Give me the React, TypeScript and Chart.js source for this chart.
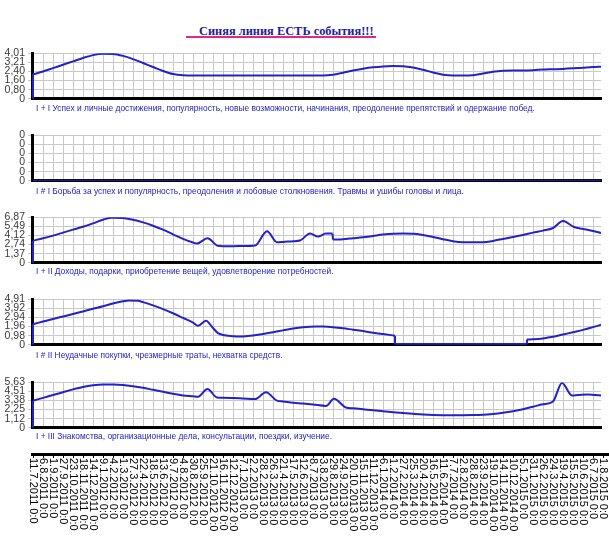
import React, { useEffect, useRef } from 'react';
import { Chart, registerables } from 'chart.js';
Chart.register(...registerables);

// ---------- data ----------
const dates = [
  '11.7.2011 0:0', '6.8.2011 0:0', '1.9.2011 0:0', '27.9.2011 0:0', '23.10.2011 0:0', '18.11.2011 0:0',
  '14.12.2011 0:0', '9.1.2012 0:0', '4.2.2012 0:0', '1.3.2012 0:0', '27.3.2012 0:0', '22.4.2012 0:0',
  '18.5.2012 0:0', '13.6.2012 0:0', '9.7.2012 0:0', '4.8.2012 0:0', '30.8.2012 0:0', '25.9.2012 0:0',
  '21.10.2012 0:0', '16.11.2012 0:0', '12.12.2012 0:0', '7.1.2013 0:0', '2.2.2013 0:0', '28.2.2013 0:0',
  '26.3.2013 0:0', '21.4.2013 0:0', '17.5.2013 0:0', '12.6.2013 0:0', '8.7.2013 0:0', '3.8.2013 0:0',
  '29.8.2013 0:0', '24.9.2013 0:0', '20.10.2013 0:0', '15.11.2013 0:0', '11.12.2013 0:0', '6.1.2014 0:0',
  '1.2.2014 0:0', '27.2.2014 0:0', '25.3.2014 0:0', '20.4.2014 0:0', '16.5.2014 0:0', '11.6.2014 0:0',
  '7.7.2014 0:0', '2.8.2014 0:0', '28.8.2014 0:0', '23.9.2014 0:0', '19.10.2014 0:0', '14.11.2014 0:0',
  '10.12.2014 0:0', '5.1.2015 0:0', '31.1.2015 0:0', '26.2.2015 0:0', '24.3.2015 0:0', '19.4.2015 0:0',
  '15.5.2015 0:0', '10.6.2015 0:0', '6.7.2015 0:0', '1.8.2015 0:0',
];

const title = 'Синяя линия ЕСТЬ события!!!';

const captions = [
  'I + I Успех и личные достижения, популярность, новые возможности, начинания, преодоление препятствий и одержание побед.',
  'I # I Борьба за успех и популярность, преодоления и лобовые столкновения. Травмы и ушибы головы и лица.',
  'I + II Доходы, подарки, приобретение вещей, удовлетворение потребностей.',
  'I # II Неудачные покупки, чрезмерные траты, нехватка средств.',
  'I + III Знакомства, организационные дела, консультации, поездки, изучение.',
];

const yLabels1 = ['0', '0,80', '1,60', '2,40', '3,21', '4,01'];
const yLabels2 = ['0', '0', '0', '0', '0', '0'];
const yLabels3 = ['0', '1,37', '2,74', '4,12', '5,49', '6,87'];
const yLabels4 = ['0', '0,98', '1,96', '2,94', '3,92', '4,91'];
const yLabels5 = ['0', '1,12', '2,25', '3,38', '4,51', '5,63'];

const yMaxes = [4.01, 1, 6.87, 4.91, 5.63];

// x positions are in units of the date-label index
const s1x = [0, 1, 2, 3, 4, 5, 6, 7, 8, 9, 10, 11, 12, 13, 14, 15, 16, 17, 18, 19, 20, 21, 22, 23, 24, 25, 26, 27, 28, 29,
  30, 31, 32, 33, 34, 35, 36, 37, 38, 39, 40, 41, 42, 43, 44, 45, 46, 47, 48, 49, 50, 51, 52, 53, 54, 55, 56, 56.8];
const s1y = [2.15, 2.4, 2.7, 3.0, 3.3, 3.6, 3.85, 3.97, 3.95, 3.78, 3.5, 3.15, 2.8, 2.45, 2.18, 2.07,
  2.05, 2.05, 2.05, 2.05, 2.05, 2.05, 2.05, 2.05, 2.05, 2.05, 2.05, 2.05, 2.05, 2.05,
  2.12, 2.3, 2.5, 2.65, 2.77, 2.85, 2.89, 2.87, 2.75, 2.55, 2.32, 2.12, 2.05, 2.05, 2.08, 2.22, 2.38, 2.47,
  2.5, 2.5, 2.52, 2.57, 2.6, 2.63, 2.68, 2.74, 2.8, 2.83];

const s2x = [0, 56.8];
const s2y = [0, 0];

const s3x = [0, 1, 2, 3, 4, 5, 6, 7, 7.9, 9, 10, 11, 12, 13, 14, 15, 16, 16.4, 17.45, 18.5, 19, 20, 21, 22.2, 23.4, 24.4,
  25, 26, 26.7, 27.7, 28.5, 29.3, 29.95, 29.95, 30, 31, 32, 33, 34, 35, 36, 37, 38, 39, 40, 41, 42, 43, 44, 45, 46, 47,
  48, 49, 50, 51, 52, 53, 54.1, 55, 56, 56.8];
const s3y = [3.33, 3.7, 4.1, 4.55, 5.0, 5.45, 5.95, 6.5, 6.82, 6.75, 6.5, 6.1, 5.6, 5.0, 4.3, 3.6, 3.05, 2.9, 3.7, 2.55,
  2.5, 2.5, 2.52, 2.6, 4.76, 3.1, 3.15, 3.25, 3.35, 4.4, 3.95, 4.4, 4.4, null, 3.5, 3.55, 3.7, 3.85, 4.05, 4.25, 4.38,
  4.4, 4.38, 4.2, 3.9, 3.55, 3.25, 3.1, 3.08, 3.1, 3.3, 3.6, 3.9, 4.2, 4.55, 4.85, 5.25, 6.3, 5.4, 5.1, 4.8, 4.5];

const s4x = [0, 1, 2, 3, 4, 5, 6, 7, 8, 9, 9.6, 10.5, 11, 12, 13, 14, 15, 16, 16.5, 17.3, 18, 18.5, 19, 20, 20.5, 21, 22,
  23, 24, 25, 26, 27, 28.3, 29, 30, 31, 32, 33, 34, 35, 36.2, 36.2, 36.2, 40, 45, 49.4, 49.4, 49.4, 50, 51, 52, 53, 54,
  55, 56, 56.8];
const s4y = [2.22, 2.5, 2.78, 3.05, 3.32, 3.6, 3.88, 4.15, 4.45, 4.7, 4.78, 4.75, 4.6, 4.25, 3.85, 3.4, 2.9, 2.4, 2.05,
  2.6, 1.8, 1.25, 1.05, 0.92, 0.88, 0.9, 1.0, 1.15, 1.35, 1.55, 1.75, 1.9, 1.98, 1.97, 1.9, 1.78, 1.62, 1.47, 1.3, 1.15,
  0.98, null, 0.08, 0.08, 0.08, 0.08, null, 0.55, 0.58, 0.68, 0.85, 1.1, 1.35, 1.6, 1.9, 2.15];

const s5x = [0, 1, 2, 3, 4, 5, 6, 7, 8, 9, 10, 11, 12, 13, 14, 15, 16, 16.5, 17.45, 18.4, 19, 20, 21, 22.2, 23.3, 24.4,
  25, 26, 27, 28, 29.3, 30.1, 31.3, 32, 33, 34, 35, 36, 37, 38, 39, 40, 41, 42, 43, 44, 45, 46, 47, 48, 49, 50, 51, 52,
  52.9, 53.9, 54.5, 55.5, 56.2, 56.8];
const s5y = [3.35, 3.7, 4.05, 4.4, 4.75, 5.05, 5.25, 5.35, 5.35, 5.3, 5.15, 4.95, 4.7, 4.45, 4.2, 4.0, 3.9, 3.85, 4.8,
  3.75, 3.72, 3.68, 3.62, 3.55, 4.4, 3.35, 3.25, 3.1, 3.0, 2.88, 2.7, 3.6, 2.5, 2.4, 2.28, 2.15, 2.05, 1.93, 1.82, 1.72,
  1.63, 1.57, 1.55, 1.55, 1.55, 1.56, 1.6, 1.7, 1.85, 2.05, 2.3, 2.6, 2.9, 3.25, 5.55, 4.0, 4.05, 4.12, 4.05, 4.0];

// ---------- style ----------
const LINE = 'rgb(34,34,205)';
const GRID = '#c9c9c9';
const CAPTION = '#2323c4';
const X_MIN = -0.1;
const X_MAX = 56.8;
const PLOT_LEFT = 32;
const PLOT_H = 50;
const PAD = 7;
const panelTops = [51, 133, 215, 297, 380];
const captionCenters = [108, 191, 271, 355, 436];
const YFONT = "'Liberation Sans', Arial, sans-serif";
const XFONT = "'Liberation Sans', Arial, sans-serif";

type Pt = { x: number; y: number | null };

function buildData(xs: number[], ys: (number | null)[]) {
  const main: Pt[] = xs.map((x, i) => ({ x, y: ys[i] }));
  const conn: Pt[] = [{ x: xs[0], y: 0 }, { x: xs[0], y: ys[0] }];
  for (let i = 1; i < ys.length - 1; i++) {
    if (ys[i] === null) {
      conn.push({ x: xs[i], y: null });
      conn.push({ x: xs[i - 1], y: ys[i - 1] });
      conn.push({ x: xs[i + 1], y: ys[i + 1] });
    }
  }
  return { main, conn };
}

const xTickValues = dates.map((_, i) => i).filter((i) => i <= X_MAX);

function Panel({ idx, xs, ys, yLabels }: { idx: number; xs: number[]; ys: (number | null)[]; yLabels: string[] }) {
  const ref = useRef<HTMLCanvasElement>(null);
  const top = panelTops[idx];
  const yMax = yMaxes[idx];
  useEffect(() => {
    const { main, conn } = buildData(xs, ys);
    const chart = new Chart(ref.current!, {
      type: 'line',
      data: {
        datasets: [
          { data: main as any, borderColor: LINE, borderWidth: 2, pointRadius: 0, cubicInterpolationMode: 'monotone', fill: false, spanGaps: false },
          { data: conn as any, borderColor: LINE, borderWidth: 2, pointRadius: 0, tension: 0, fill: false, spanGaps: false },
        ],
      },
      options: {
        animation: false,
        responsive: false,
        events: [],
        layout: { padding: { top: PAD, bottom: PAD, left: 0, right: 8 } },
        plugins: { legend: { display: false }, tooltip: { enabled: false }, title: { display: false } },
        scales: {
          x: {
            type: 'linear',
            min: X_MIN,
            max: X_MAX,
            afterBuildTicks: (s: any) => { s.ticks = xTickValues.map((v) => ({ value: v })); },
            afterFit: (s: any) => { s.height = 0; },
            ticks: { display: false, autoSkip: false },
            grid: { color: GRID, drawTicks: false, lineWidth: 1 },
            border: { color: '#000', width: 3 },
          },
          y: {
            type: 'linear',
            min: 0,
            max: yMax,
            afterBuildTicks: (s: any) => { s.ticks = yLabels.map((_, k) => ({ value: (k * yMax) / 5 })); },
            afterFit: (s: any) => { s.width = PLOT_LEFT; },
            ticks: {
              autoSkip: false,
              callback: (_v: any, i: number) => yLabels[i],
              font: { family: YFONT, size: 10.5 },
              color: '#3a3a3a',
              padding: 3,
            },
            grid: { color: GRID, tickLength: 4, lineWidth: 1 },
            border: { color: '#000', width: 3 },
          },
        },
      },
    });
    return () => chart.destroy();
  }, []);
  return (
    <canvas
      ref={ref}
      width={609}
      height={PLOT_H + 2 * PAD}
      style={{ position: 'absolute', left: 0, top: top - PAD, width: 609, height: PLOT_H + 2 * PAD }}
    />
  );
}

// draws the x-axis tick labels of the scale, turned a quarter clockwise, hanging under the axis line
const hangingLabels = {
  id: 'hangingLabels',
  afterDraw(chart: any) {
    const s = chart.scales.x;
    const ctx = chart.ctx as CanvasRenderingContext2D;
    ctx.save();
    ctx.font = `11px ${XFONT}`;
    ctx.fillStyle = '#000';
    ctx.textAlign = 'left';
    ctx.textBaseline = 'middle';
    s.ticks.forEach((t: any, i: number) => {
      const x = s.getPixelForTick(i);
      ctx.save();
      ctx.translate(x, s.bottom + 4);
      ctx.rotate(Math.PI / 2);
      ctx.fillText(String(t.label ?? dates[i]), 0, 0);
      ctx.restore();
    });
    ctx.restore();
  },
};

function AxisChart() {
  const ref = useRef<HTMLCanvasElement>(null);
  const canvasTop = 444;
  const axisH = 10;
  useEffect(() => {
    const chart = new Chart(ref.current!, {
      type: 'line',
      data: { datasets: [] },
      options: {
        animation: false,
        responsive: false,
        events: [],
        layout: { padding: { top: 0, bottom: 0, left: PLOT_LEFT, right: 1 } },
        plugins: { legend: { display: false }, tooltip: { enabled: false } },
        scales: {
          x: {
            type: 'linear',
            position: 'top',
            min: X_MIN,
            max: 57.5,
            afterBuildTicks: (s: any) => { s.ticks = dates.map((_, i) => ({ value: i })); },
            afterFit: (s: any) => { s.height = axisH; },
            ticks: {
              display: false,
              autoSkip: false,
              callback: (_v: any, i: number) => dates[i],
            },
            grid: { drawOnChartArea: false, drawTicks: true, tickLength: -4, tickColor: '#000' },
            border: { color: '#000', width: 3 },
          },
          y: { display: false, min: 0, max: 1 },
        },
      },
      plugins: [hangingLabels],
    });
    return () => chart.destroy();
  }, []);
  return (
    <canvas
      ref={ref}
      width={609}
      height={537 - canvasTop}
      style={{ position: 'absolute', left: 0, top: canvasTop, width: 609, height: 537 - canvasTop }}
    />
  );
}

export default function App() {
  const series = [
    { xs: s1x, ys: s1y, yl: yLabels1 },
    { xs: s2x, ys: s2y, yl: yLabels2 },
    { xs: s3x, ys: s3y, yl: yLabels3 },
    { xs: s4x, ys: s4y, yl: yLabels4 },
    { xs: s5x, ys: s5y, yl: yLabels5 },
  ];
  return (
    <div style={{ position: 'absolute', left: 0, top: 0, width: 609, height: 537, background: '#fff', overflow: 'hidden' }}>
      <div
        style={{
          position: 'absolute', left: 199, top: 24, whiteSpace: 'nowrap',
          font: "bold 12.4px 'Liberation Serif', 'Times New Roman', serif", lineHeight: '14px', color: '#1d1d9e',
        }}
      >
        {title}
      </div>
      <div style={{ position: 'absolute', left: 186, top: 36, width: 190, height: 2, background: '#e0288c' }} />
      {series.map((s, i) => (
        <Panel key={i} idx={i} xs={s.xs} ys={s.ys} yLabels={s.yl} />
      ))}
      {captions.map((c, i) => (
        <div
          key={'c' + i}
          style={{
            position: 'absolute', left: 36, top: captionCenters[i] - 5, whiteSpace: 'nowrap',
            font: "8.4px 'Liberation Sans', Arial, sans-serif", lineHeight: '10px', color: CAPTION,
          }}
        >
          {c}
        </div>
      ))}
      <AxisChart />
    </div>
  );
}
